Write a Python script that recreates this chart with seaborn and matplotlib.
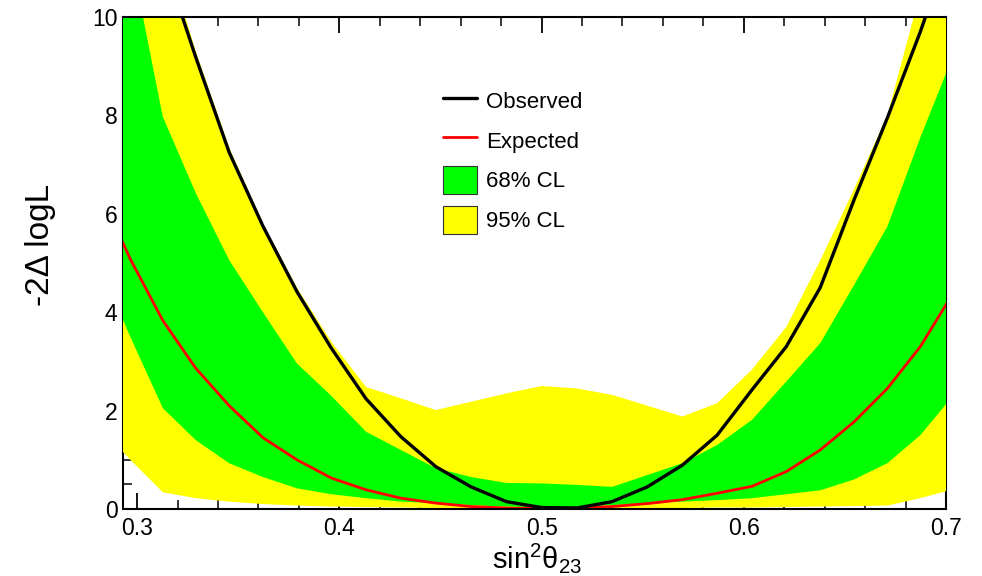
import matplotlib
matplotlib.use("Agg")
import matplotlib.pyplot as plt
import pandas as pd
import seaborn as sns
from matplotlib.lines import Line2D
from matplotlib.patches import Patch
from matplotlib.ticker import MultipleLocator

# Scan points in sin^2(theta23)
sin2_theta23 = [0.2808, 0.2966, 0.3127, 0.3290, 0.3455, 0.3622, 0.3790, 0.3960,
                0.4132, 0.4304, 0.4477, 0.4651, 0.4826, 0.5000, 0.5174, 0.5349,
                0.5523, 0.5696, 0.5868, 0.6040, 0.6210, 0.6378, 0.6545, 0.6710,
                0.6873, 0.7034, 0.7192]

# -2 Delta log L profiles
observed = [16.0, 13.5, 11.2, 9.18, 7.25, 5.75, 4.42, 3.27, 2.24, 1.47, 0.86, 0.45,
            0.15, 0.03, 0.02, 0.15, 0.45, 0.89, 1.5, 2.42, 3.3, 4.5, 6.28, 7.95,
            9.7, 11.6, 13.8]
expected = [6.5, 5.08, 3.83, 2.86, 2.1, 1.45, 1.0, 0.63, 0.39, 0.22, 0.12, 0.05,
            0.02, 0.01, 0.02, 0.05, 0.11, 0.19, 0.32, 0.46, 0.76, 1.2, 1.77, 2.45,
            3.3, 4.38, 5.5]

# Expected-sensitivity bands
band68_low = [5.0, 3.5, 2.05, 1.4, 0.93, 0.65, 0.42, 0.3, 0.22, 0.15, 0.12, 0.08,
              0.05, 0.03, 0.04, 0.08, 0.12, 0.15, 0.18, 0.22, 0.3, 0.38, 0.6, 0.93,
              1.5, 2.3, 3.2]
band68_high = [14.5, 11.3, 7.97, 6.42, 5.06, 4.0, 2.96, 2.3, 1.57, 1.2, 0.83, 0.65,
               0.53, 0.52, 0.49, 0.45, 0.69, 0.93, 1.3, 1.81, 2.59, 3.37, 4.55, 5.74,
               7.55, 9.2, 11.0]
band95_low = [1.7, 1.0, 0.34, 0.22, 0.15, 0.1, 0.07, 0.05, 0.04, 0.03, 0.02, 0.02,
              0.01, 0.01, 0.01, 0.01, 0.02, 0.02, 0.03, 0.03, 0.04, 0.05, 0.06, 0.07,
              0.22, 0.4, 0.6]
band95_high = [16.0, 13.5, 11.5, 9.3, 7.35, 5.8, 4.5, 3.4, 2.48, 2.25, 2.01, 2.18,
               2.35, 2.5, 2.45, 2.32, 2.1, 1.88, 2.15, 2.83, 3.7, 5.05, 6.5, 8.0,
               10.5, 12.5, 14.5]

legend_labels = ["Observed", "Expected", "68% CL", "95% CL"]

df = pd.DataFrame({
    "sin2": sin2_theta23,
    "observed": observed,
    "expected": expected,
})

sns.set_theme(style="ticks")
plt.rcParams["font.family"] = ["Liberation Sans", "DejaVu Sans"]
plt.rcParams["mathtext.fontset"] = "custom"
plt.rcParams["mathtext.rm"] = "Liberation Sans"
plt.rcParams["mathtext.default"] = "regular"
plt.rcParams["text.color"] = "black"
plt.rcParams["axes.labelcolor"] = "black"

W, H = 982, 576
fig = plt.figure(figsize=(W / 100, H / 100), dpi=100)
ax = fig.add_axes([123 / W, 1 - 509 / H, (946 - 123) / W, (509 - 17) / H])
ax.set_facecolor("white")

ax.fill_between(df["sin2"], band95_low, band95_high, color="#ffff00",
                lw=0, zorder=1)
ax.fill_between(df["sin2"], band68_low, band68_high, color="#00ff00",
                lw=0, zorder=1.1)

sns.lineplot(data=df, x="sin2", y="expected", color="#ff0000", lw=2.0,
             ax=ax, zorder=3)
sns.lineplot(data=df, x="sin2", y="observed", color="black", lw=2.4,
             ax=ax, zorder=3.1)

ax.set_xlim(0.293, 0.7)
ax.set_ylim(0, 10)
ax.xaxis.set_major_locator(MultipleLocator(0.1))
ax.xaxis.set_minor_locator(MultipleLocator(0.02))
ax.yaxis.set_major_locator(MultipleLocator(2))
ax.yaxis.set_minor_locator(MultipleLocator(0.5))
ax.set_xticks([0.3, 0.4, 0.5, 0.6, 0.7])
ax.set_xticklabels(["0.3", "0.4", "0.5", "0.6", "0.7"])

ax.set_axisbelow(True)
ax.tick_params(which="both", direction="in", top=True, right=True,
               colors="black", labelsize=16.5)
ax.tick_params(which="major", length=11.5, width=1.3)
ax.tick_params(which="minor", length=6.5, width=1.1)
ax.tick_params(axis="x", pad=6)
ax.tick_params(axis="y", pad=4)

for side in ["left", "right"]:
    ax.spines[side].set_zorder(0.6)
for side in ["top", "bottom"]:
    ax.spines[side].set_zorder(4)
for sp in ax.spines.values():
    sp.set_color("black")
    sp.set_linewidth(1.5)

ax.set_xlabel("sin$^{2}$θ$_{23}$", fontsize=21)
ax.set_ylabel("-2Δ logL", fontsize=24)
ax.xaxis.label.set_va("center")
ax.yaxis.label.set_va("center")
ax.xaxis.set_label_coords((537 - 123) / 823, (509 - 558) / 492)
ax.yaxis.set_label_coords((41 - 123) / 823, (509 - 245) / 492)

handles = [
    Line2D([], [], color="black", lw=2.4),
    Line2D([], [], color="#ff0000", lw=2.0),
    Patch(facecolor="#00ff00", edgecolor="#333333", lw=0.8),
    Patch(facecolor="#ffff00", edgecolor="#333333", lw=0.8),
]
ax.legend(handles, legend_labels, loc="upper left",
          bbox_to_anchor=(443 / W, 1 - 87 / H), bbox_transform=fig.transFigure,
          frameon=False, fontsize=16, handlelength=1.55, handleheight=1.56,
          handletextpad=0.4, labelspacing=0.52, borderpad=0, borderaxespad=0)

fig.savefig("out.png", dpi=100)
